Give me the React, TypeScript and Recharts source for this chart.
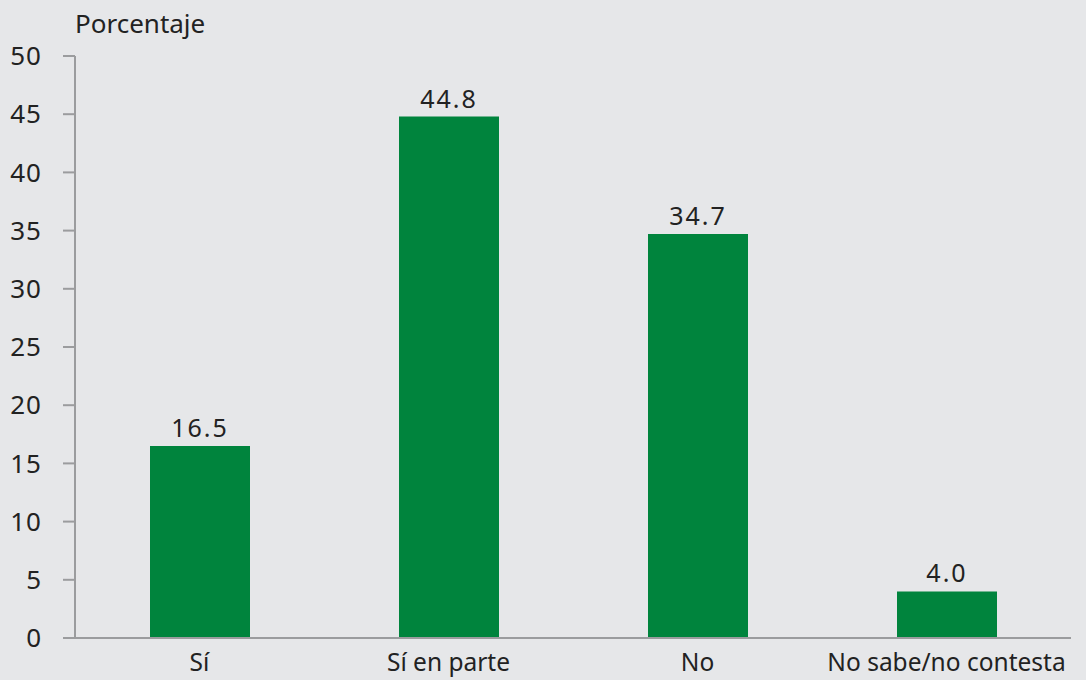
import React from 'react';
import { BarChart, Bar, XAxis, YAxis, LabelList } from 'recharts';

const categories = ['Sí', 'Sí en parte', 'No', 'No sabe/no contesta'];
const percentages = [16.5, 44.8, 34.7, 4.0];
const yTicks = [0, 5, 10, 15, 20, 25, 30, 35, 40, 45, 50];

const data = categories.map((name, i) => ({ name, value: percentages[i] }));

const font = '"Noto Sans", sans-serif';

const App: React.FC = () => {
  return (
    <div style={{ position: 'fixed', left: 0, top: 0, width: 1086, height: 680, background: '#e6e7e9', fontFamily: font }}>
      <div style={{ position: 'absolute', left: 75, top: 5, fontSize: 26, color: '#222' }}>Porcentaje</div>
      <BarChart width={1086} height={680} data={data} margin={{ top: 56, right: 15, bottom: 0, left: 0 }} barSize={100}>
        <XAxis
          dataKey="name"
          height={42}
          tickLine={false}
          tickMargin={10}
          axisLine={{ stroke: '#9b9c9e', strokeWidth: 2 }}
          tick={{ fill: '#222', fontSize: 24.5, fontFamily: font }}
          interval={0}
        />
        <XAxis xAxisId="top" orientation="top" dataKey="name" height={0} tick={false} tickLine={false} axisLine={{ stroke: '#9b9c9e', strokeWidth: 2 }} />
        <YAxis
          domain={[0, 50]}
          ticks={yTicks}
          width={75}
          tickSize={12}
          tickMargin={21}
          interval={0}
          axisLine={{ stroke: '#9b9c9e', strokeWidth: 2 }}
          tickLine={{ stroke: '#9b9c9e', strokeWidth: 2 }}
          tick={{ fill: '#222', fontSize: 26, letterSpacing: 1, fontFamily: font }}
        />
        <YAxis yAxisId="right" orientation="right" width={0} tick={false} tickLine={false} axisLine={{ stroke: '#9b9c9e', strokeWidth: 2 }} />
        <Bar dataKey="value" fill="#00843d" isAnimationActive={false}>
          <LabelList
            dataKey="value"
            position="top"
            offset={9}
            formatter={(v: number) => v.toFixed(1)}
            style={{ fill: '#222', fontSize: 25, letterSpacing: 2, fontFamily: font }}
          />
        </Bar>
      </BarChart>
    </div>
  );
};

export default App;
